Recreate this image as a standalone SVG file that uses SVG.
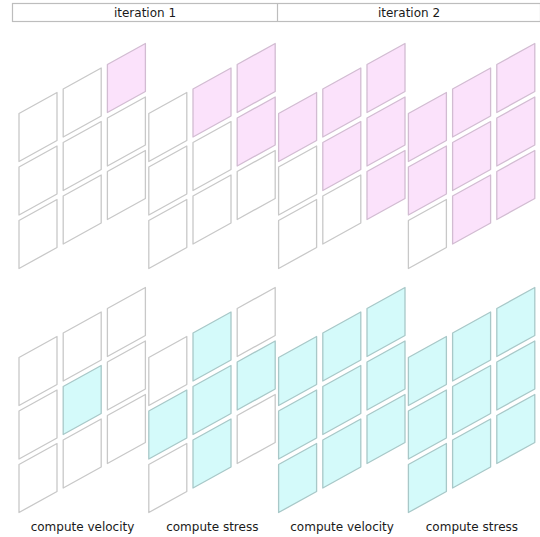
<svg xmlns="http://www.w3.org/2000/svg" xmlns:xlink="http://www.w3.org/1999/xlink" width="540" height="537" viewBox="0 0 540 537">
<style>
.w{fill:#ffffff;stroke:#c8c8c8}
.p{fill:#fbe2fb;stroke:#d2bcd2}
.b{fill:#d4fafa;stroke:#a8c8c8}
use{stroke-width:1.3;stroke-linejoin:round}
text{font-family:"DejaVu Sans","Liberation Sans",sans-serif;font-size:12px;fill:#1a1a1a;text-anchor:middle}
.hdr{fill:#fff;stroke:#bdbdbd;stroke-width:1.2}
</style>
<defs>
<path id="c" d="M0,0 L38,-21 L38,27 L0,48 Z"/>
</defs>
<g id="header">
<rect class="hdr" x="12.5" y="3.5" width="528" height="18"/>
<line x1="277.5" y1="3.5" x2="277.5" y2="21.5" stroke="#bdbdbd" stroke-width="1.2"/>
<text x="145" y="16.8">iteration 1</text>
<text x="409" y="16.8">iteration 2</text>
</g>
<g id="connectors"/>
<g id="it1-velocity-top" transform="translate(19,113.5)">
<use href="#c" x="0" y="0" class="w"/><use href="#c" x="0" y="53.5" class="w"/><use href="#c" x="0" y="107" class="w"/>
<use href="#c" x="44.2" y="-24.5" class="w"/><use href="#c" x="44.2" y="29" class="w"/><use href="#c" x="44.2" y="82.5" class="w"/>
<use href="#c" x="88.4" y="-49" class="p"/><use href="#c" x="88.4" y="4.5" class="w"/><use href="#c" x="88.4" y="58" class="w"/>
</g>
<g id="it1-stress-top" transform="translate(148.8,113.5)">
<use href="#c" x="0" y="0" class="w"/><use href="#c" x="0" y="53.5" class="w"/><use href="#c" x="0" y="107" class="w"/>
<use href="#c" x="44.2" y="-24.5" class="p"/><use href="#c" x="44.2" y="29" class="w"/><use href="#c" x="44.2" y="82.5" class="w"/>
<use href="#c" x="88.4" y="-49" class="p"/><use href="#c" x="88.4" y="4.5" class="p"/><use href="#c" x="88.4" y="58" class="w"/>
</g>
<g id="it2-velocity-top" transform="translate(278.6,113.5)">
<use href="#c" x="0" y="0" class="p"/><use href="#c" x="0" y="53.5" class="w"/><use href="#c" x="0" y="107" class="w"/>
<use href="#c" x="44.2" y="-24.5" class="p"/><use href="#c" x="44.2" y="29" class="p"/><use href="#c" x="44.2" y="82.5" class="w"/>
<use href="#c" x="88.4" y="-49" class="p"/><use href="#c" x="88.4" y="4.5" class="p"/><use href="#c" x="88.4" y="58" class="p"/>
</g>
<g id="it2-stress-top" transform="translate(408.4,113.5)">
<use href="#c" x="0" y="0" class="p"/><use href="#c" x="0" y="53.5" class="p"/><use href="#c" x="0" y="107" class="w"/>
<use href="#c" x="44.2" y="-24.5" class="p"/><use href="#c" x="44.2" y="29" class="p"/><use href="#c" x="44.2" y="82.5" class="p"/>
<use href="#c" x="88.4" y="-49" class="p"/><use href="#c" x="88.4" y="4.5" class="p"/><use href="#c" x="88.4" y="58" class="p"/>
</g>
<g id="it1-velocity-bottom" transform="translate(19,357.5)">
<use href="#c" x="0" y="0" class="w"/><use href="#c" x="0" y="53.5" class="w"/><use href="#c" x="0" y="107" class="w"/>
<use href="#c" x="44.2" y="-24.5" class="w"/><use href="#c" x="44.2" y="29" class="b"/><use href="#c" x="44.2" y="82.5" class="w"/>
<use href="#c" x="88.4" y="-49" class="w"/><use href="#c" x="88.4" y="4.5" class="w"/><use href="#c" x="88.4" y="58" class="w"/>
</g>
<g id="it1-stress-bottom" transform="translate(148.8,357.5)">
<use href="#c" x="0" y="0" class="w"/><use href="#c" x="0" y="53.5" class="b"/><use href="#c" x="0" y="107" class="w"/>
<use href="#c" x="44.2" y="-24.5" class="b"/><use href="#c" x="44.2" y="29" class="b"/><use href="#c" x="44.2" y="82.5" class="b"/>
<use href="#c" x="88.4" y="-49" class="w"/><use href="#c" x="88.4" y="4.5" class="b"/><use href="#c" x="88.4" y="58" class="w"/>
</g>
<g id="it2-velocity-bottom" transform="translate(278.6,357.5)">
<use href="#c" x="0" y="0" class="b"/><use href="#c" x="0" y="53.5" class="b"/><use href="#c" x="0" y="107" class="b"/>
<use href="#c" x="44.2" y="-24.5" class="b"/><use href="#c" x="44.2" y="29" class="b"/><use href="#c" x="44.2" y="82.5" class="b"/>
<use href="#c" x="88.4" y="-49" class="b"/><use href="#c" x="88.4" y="4.5" class="b"/><use href="#c" x="88.4" y="58" class="b"/>
</g>
<g id="it2-stress-bottom" transform="translate(408.4,357.5)">
<use href="#c" x="0" y="0" class="b"/><use href="#c" x="0" y="53.5" class="b"/><use href="#c" x="0" y="107" class="b"/>
<use href="#c" x="44.2" y="-24.5" class="b"/><use href="#c" x="44.2" y="29" class="b"/><use href="#c" x="44.2" y="82.5" class="b"/>
<use href="#c" x="88.4" y="-49" class="b"/><use href="#c" x="88.4" y="4.5" class="b"/><use href="#c" x="88.4" y="58" class="b"/>
</g>
<g id="labels">
<text x="82.5" y="531">compute velocity</text>
<text x="212.3" y="531">compute stress</text>
<text x="342.1" y="531">compute velocity</text>
<text x="471.9" y="531">compute stress</text>
</g>
</svg>
